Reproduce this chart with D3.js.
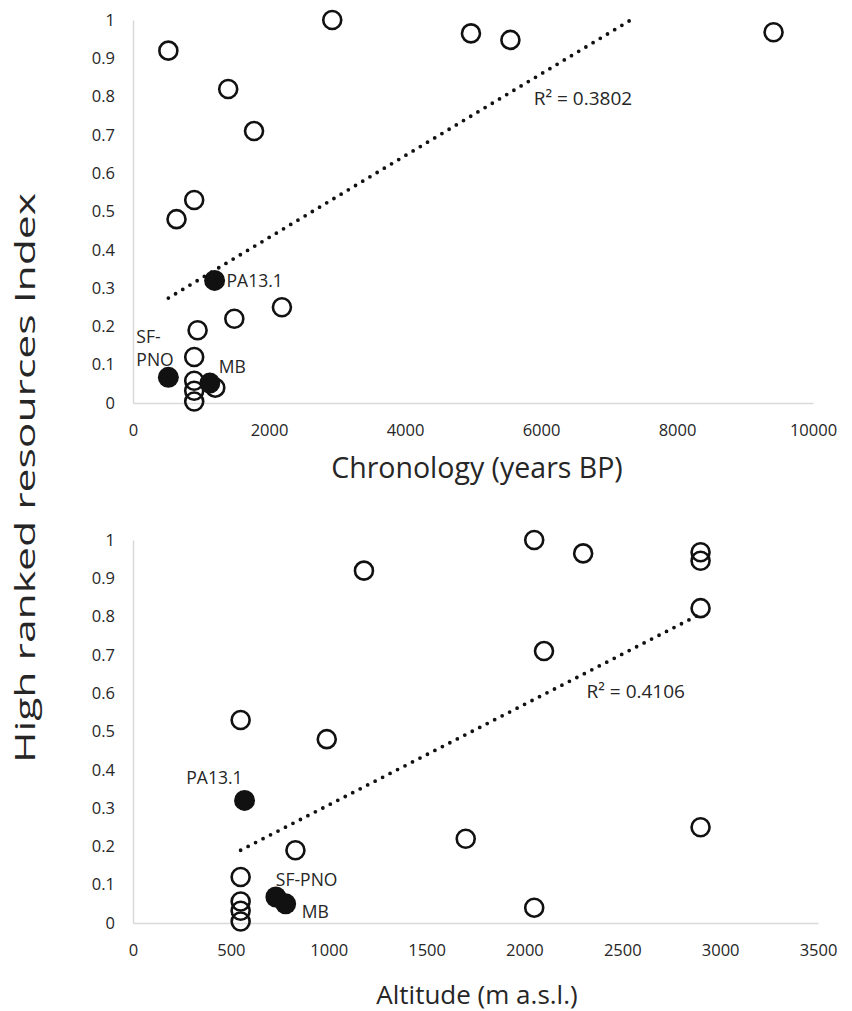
<!DOCTYPE html>
<html>
<head>
<meta charset="utf-8">
<script src="https://cdn.jsdelivr.net/npm/d3@7"></script>
<style>
  body { margin: 0; background: #fff; }
  svg text { font-family: 'Open Sans', sans-serif; fill: #262626; }
</style>
</head>
<body>
<svg id="chart" width="852" height="1011"></svg>
<script>
// shared y ticks
const yTicks = [0, 0.1, 0.2, 0.3, 0.4, 0.5, 0.6, 0.7, 0.8, 0.9, 1]

// top panel: chronology (years BP)
const chronoTicks = [0, 2000, 4000, 6000, 8000, 10000]
const chronoOpenX = [520, 2930, 4970, 5550, 9420, 1400, 1780, 900, 640, 2190, 1490, 950, 900, 900, 900, 900, 1210]
const chronoOpenY = [0.92, 1.0, 0.965, 0.948, 0.968, 0.82, 0.71, 0.53, 0.48, 0.25, 0.22, 0.19, 0.12, 0.058, 0.032, 0.004, 0.04]
const chronoSites = ['PA13.1', 'SF-PNO', 'MB']
const chronoSiteX = [1200, 520, 1130]
const chronoSiteY = [0.32, 0.067, 0.052]
const chronoTrendX = [520, 7320]
const chronoTrendY = [0.274, 1.0]
const chronoR2 = 'R² = 0.3802'

// bottom panel: altitude (m a.s.l.)
const altTicks = [0, 500, 1000, 1500, 2000, 2500, 3000, 3500]
const altOpenX = [1180, 550, 2050, 2300, 2900, 2900, 2900, 2100, 990, 830, 1700, 550, 2900, 550, 550, 550, 2050]
const altOpenY = [0.92, 0.53, 1.0, 0.965, 0.968, 0.946, 0.822, 0.71, 0.48, 0.19, 0.22, 0.12, 0.25, 0.056, 0.032, 0.004, 0.04]
const altSites = ['PA13.1', 'SF-PNO', 'MB']
const altSiteX = [570, 730, 780]
const altSiteY = [0.32, 0.068, 0.05]
const altTrendX = [550, 2900]
const altTrendY = [0.19, 0.807]
const altR2 = 'R² = 0.4106'

const svg = d3.select('#chart')

function drawPanel(p) {
    const x = d3.scaleLinear().domain([0, p.ticks[p.ticks.length - 1]]).range([p.left, p.right])
    const y = d3.scaleLinear().domain([0, 1]).range([p.bottom, p.top])
    const g = svg.append('g')

    const xAxis = g.append('g')
        .attr('transform', `translate(0,${p.bottom})`)
        .call(d3.axisBottom(x).tickValues(p.ticks).tickSize(0).tickPadding(p.xPad).tickFormat(d => d))
    const yAxis = g.append('g')
        .attr('transform', `translate(${p.left},0)`)
        .call(d3.axisLeft(y).tickValues(yTicks).tickSize(0).tickPadding(18).tickFormat(d => d))

    for (const a of [xAxis, yAxis]) {
        a.select('.domain').attr('stroke', '#d9d9d9').attr('stroke-width', 1.5)
        a.selectAll('text').style('font-size', '16.5px').attr('fill', '#262626')
    }

    // trend line (dotted)
    g.append('path')
        .datum(d3.zip(p.trendX, p.trendY))
        .attr('d', d3.line().x(d => x(d[0])).y(d => y(d[1])))
        .attr('fill', 'none')
        .attr('stroke', '#111')
        .attr('stroke-width', 3.8)
        .attr('stroke-linecap', 'round')
        .attr('stroke-dasharray', '0 8.4')

    g.append('text')
        .attr('x', x(p.trendX[1]) + p.r2dx)
        .attr('y', y(p.trendY[1]) + p.r2dy)
        .attr('dy', '0.35em')
        .style('font-size', '19px')
        .text(p.r2)

    g.selectAll('circle.open')
        .data(d3.zip(p.openX, p.openY))
        .join('circle')
        .attr('class', 'open')
        .attr('cx', d => x(d[0]))
        .attr('cy', d => y(d[1]))
        .attr('r', 9)
        .attr('fill', 'none')
        .attr('stroke', '#111')
        .attr('stroke-width', 2.6)

    const sites = p.sites.map((s, i) => ({ name: s, x: p.siteX[i], y: p.siteY[i] }))
    g.selectAll('circle.site')
        .data(sites)
        .join('circle')
        .attr('class', 'site')
        .attr('cx', d => x(d.x))
        .attr('cy', d => y(d.y))
        .attr('r', 10.5)
        .attr('fill', '#111')

    // site labels
    sites.forEach(d => {
        const o = p.labels[d.name]
        const t = g.append('text')
            .attr('x', x(d.x) + o.dx)
            .attr('y', y(d.y) + o.dy)
            .attr('text-anchor', o.anchor || 'start')
            .attr('dy', '0.35em')
            .style('font-size', '17.5px')
        if (o.lines) {
            o.lines.forEach((l, i) => t.append('tspan')
                .attr('x', x(d.x) + o.dx)
                .attr('dy', i === 0 ? '0.35em' : '23px')
                .text(l))
            t.attr('dy', null)
        } else {
            t.text(d.name)
        }
    })

    svg.append('text')
        .attr('x', p.titleX)
        .attr('y', p.titleY)
        .attr('text-anchor', 'middle')
        .attr('dy', '0.35em')
        .style('font-size', p.titleSize)
        .text(p.title)
}

drawPanel({
    ticks: chronoTicks, left: 133, right: 813, top: 20, bottom: 403, xPad: 21,
    openX: chronoOpenX, openY: chronoOpenY,
    sites: chronoSites, siteX: chronoSiteX, siteY: chronoSiteY,
    trendX: chronoTrendX, trendY: chronoTrendY,
    r2: chronoR2, r2dx: -97, r2dy: 78,
    labels: {
        'PA13.1': { dx: 12, dy: 0 },
        'SF-PNO': { dx: -32, dy: -40, lines: ['SF-', 'PNO'] },
        'MB': { dx: 9, dy: -16 }
    },
    title: 'Chronology (years BP)', titleX: 477, titleY: 468, titleSize: '28.5px'
})

drawPanel({
    ticks: altTicks, left: 133, right: 818, top: 540, bottom: 923, xPad: 21,
    openX: altOpenX, openY: altOpenY,
    sites: altSites, siteX: altSiteX, siteY: altSiteY,
    trendX: altTrendX, trendY: altTrendY,
    r2: altR2, r2dx: -114, r2dy: 77,
    labels: {
        'PA13.1': { dx: -2, dy: -23, anchor: 'end' },
        'SF-PNO': { dx: 0, dy: -17 },
        'MB': { dx: 16, dy: 8 }
    },
    title: 'Altitude (m a.s.l.)', titleX: 477, titleY: 995, titleSize: '26px'
})

// shared y title
svg.append('text')
    .attr('transform', 'translate(35,478) rotate(-90)')
    .attr('text-anchor', 'middle')
    .attr('textLength', 570)
    .attr('lengthAdjust', 'spacingAndGlyphs')
    .style('font-size', '28px')
    .text('High ranked resources Index')
</script>
</body>
</html>
